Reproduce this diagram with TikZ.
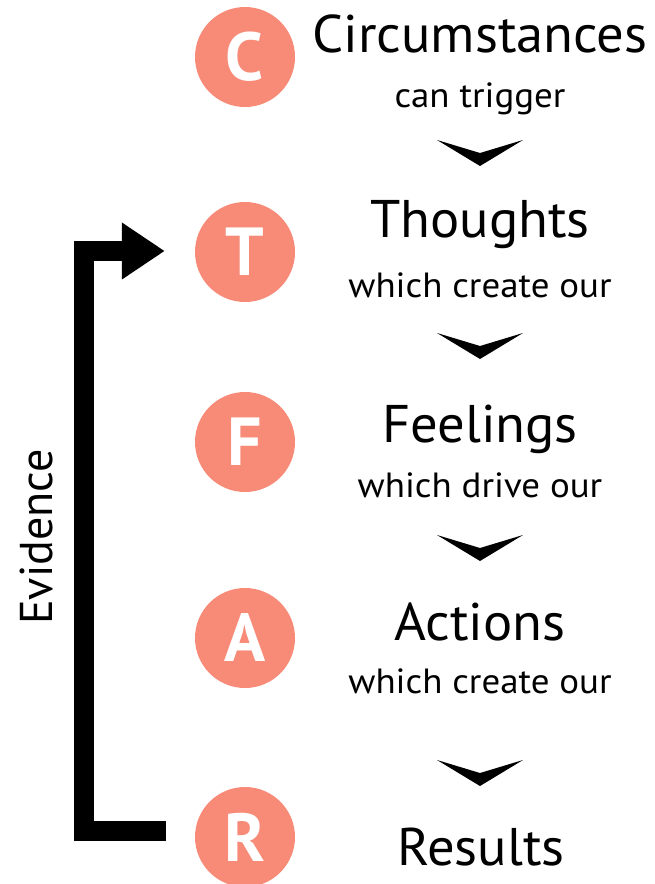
\documentclass[tikz,border=0pt]{standalone}
\usepackage{fontspec}
\setmainfont{PT Sans}
\newfontfamily\titlefont[FakeStretch=1.03]{PT Sans}
\newfontfamily\subfont[FakeStretch=1.055]{PT Sans}
\usetikzlibrary{arrows.meta}
\definecolor{salmon}{HTML}{F78B77}
\tikzset{
  circ/.style={circle, fill=salmon, draw=none, minimum size=100pt, inner sep=0pt,
    text=white, font=\bfseries\fontsize{68}{72}\selectfont},
  title/.style={anchor=base, inner sep=0pt, font=\titlefont\fontsize{53}{60}\selectfont},
  subtitle/.style={anchor=base, inner sep=0pt, font=\subfont\fontsize{35}{40}\selectfont},
  evid/.style={line width=20pt, line join=miter, -{Triangle[width=54pt,length=43pt]}},
  chev/.pic={\fill (-43,0) -- (0,13) -- (43,0) -- (0,26) -- cycle;}
}
\begin{document}
\begin{tikzpicture}[x=1pt,y=-1pt]
\useasboundingbox (0,0) rectangle (654,884);
\clip (0,0) rectangle (654,884);
% circles
\node[circ] (c) at (245,57) {C};
\node[circ] (t) at (245,252) {T};
\node[circ] (f) at (245,442) {F};
\node[circ] (a) at (245,638) {A};
\node[circ] (r) at (245,837) {R};
% titles
\node[title] (ct) at (480,52) {Circumstances};
\node[subtitle] (cs) at (480,107) {can trigger};
\node[title] (tt) at (480,237) {Thoughts};
\node[subtitle] (ts) at (480,297) {which create our};
\node[title] (ft) at (480,442) {Feelings};
\node[subtitle] (fs) at (480,497) {which drive our};
\node[title] (at) at (480,640) {Actions};
\node[subtitle] (as) at (480,693) {which create our};
\node[title] (rt) at (481,865) {Results};
% chevrons
\pic at (480,140) {chev};
\pic at (480,333) {chev};
\pic at (480,535) {chev};
\pic at (480,760) {chev};
% evidence arrow
\coordinate (evs) at ([xshift=-29pt,yshift=6pt]r.west);
\coordinate (evt) at ([xshift=-30pt,yshift=1pt]t.west);
\draw[evid] (evs) -| ([xshift=-81pt]evt) -- (evt);
\node[rotate=90, anchor=base, inner sep=0pt, font=\fontsize{46}{52}\selectfont] (ev) at (52,537) {Evidence};
\end{tikzpicture}
\end{document}
